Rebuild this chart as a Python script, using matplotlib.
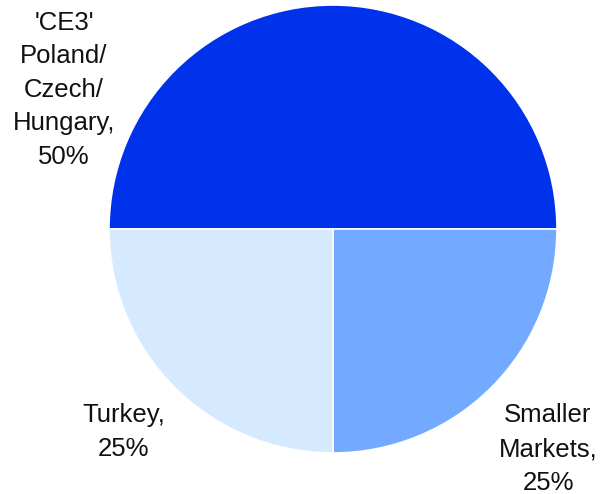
import matplotlib
matplotlib.use("Agg")
import matplotlib.pyplot as plt

categories = ["'CE3'\nPoland/\nCzech/\nHungary", "Smaller\nMarkets", "Turkey"]
shares = [50, 25, 25]
colors = ["#0032EC", "#73AAFF", "#D5E9FF"]

plt.rcParams['font.family'] = ['Liberation Sans', 'DejaVu Sans']

W, H = 601, 494
fig = plt.figure(figsize=(W / 100, H / 100), dpi=100)
ax = fig.add_axes([0, 0, 1, 1])

cx, cy, r = 333, 229, 224  # pie centre and radius in pixels (from top-left)
ax.pie(shares, colors=colors, startangle=180, counterclock=False,
       radius=1, center=(0, 0),
       wedgeprops=dict(edgecolor="white", linewidth=1.2))

ax.set_xlim(-cx / r, (W - cx) / r)
ax.set_ylim(-(H - cy) / r, cy / r)
ax.set_aspect("auto")
ax.axis("off")

label_px = [(64, 90), (548, 449), (124, 432)]
for name, val, (px, py) in zip(categories, shares, label_px):
    ax.text((px - cx) / r, (cy - py) / r, f"{name},\n{val}%",
            ha="center", va="center", fontsize=18.5, color="#111111",
            linespacing=1.5)

fig.savefig("out.png", dpi=100)
